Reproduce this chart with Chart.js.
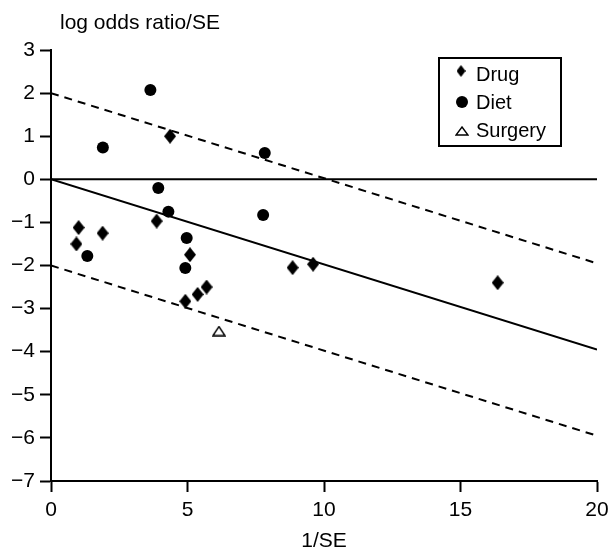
<!DOCTYPE html>
<html>
<head>
<meta charset="utf-8">
<script src="https://cdn.jsdelivr.net/npm/chart.js@4.4.0/dist/chart.umd.min.js"></script>
<style>
html, body { margin: 0; padding: 0; background: #fff; }
#wrap { position: relative; width: 611px; height: 552px; }
</style>
</head>
<body>
<div id="wrap"><canvas id="galbraith"></canvas></div>
<script>
// values (x = 1/SE, y = log odds ratio/SE)
const drugX = [1.01, 0.93, 1.89, 3.87, 4.36, 5.09, 8.85, 9.6, 4.92, 5.37, 5.7, 16.36];
const drugY = [-1.12, -1.5, -1.25, -0.97, 1.0, -1.75, -2.05, -1.97, -2.83, -2.67, -2.5, -2.4];
const dietX = [3.64, 1.9, 7.83, 3.93, 4.3, 7.77, 1.33, 4.97, 4.92];
const dietY = [2.07, 0.74, 0.61, -0.2, -0.75, -0.83, -1.78, -1.36, -2.06];
const surgeryX = [6.15];
const surgeryY = [-3.52];

// regression line and +/-2 band
const lineX = [0, 20];
const fitY = [0, -3.95];
const upperY = [2, -1.95];
const lowerY = [-2, -5.95];
const zeroY = [0, 0];

const legendLabels = ['Drug', 'Diet', 'Surgery'];
const xTitle = '1/SE';
const yTitle = 'log odds ratio/SE';

const FONT = '"Liberation Sans", Arial, Helvetica, sans-serif';

function zip(xs, ys) {
    return xs.map((x, i) => ({ x: x, y: ys[i] }));
}

function makeMarker(w, h, draw) {
    const c = document.createElement('canvas');
    c.width = w;
    c.height = h;
    draw(c.getContext('2d'), w, h);
    return c;
}

function diamondShape(g, w, h) {
    g.fillStyle = '#000';
    g.beginPath();
    g.moveTo(w / 2, 0);
    g.lineTo(w, h / 2);
    g.lineTo(w / 2, h);
    g.lineTo(0, h / 2);
    g.closePath();
    g.fill();
}

function triangleShape(g, w, h) {
    g.strokeStyle = '#000';
    g.lineWidth = 1.4;
    g.beginPath();
    g.moveTo(w / 2, 1);
    g.lineTo(w - 1, h - 1);
    g.lineTo(1, h - 1);
    g.closePath();
    g.stroke();
}

const diamond = makeMarker(12, 15, diamondShape);
const triangle = makeMarker(14, 11, triangleShape);
const legendDiamond = makeMarker(9, 12, diamondShape);
const legendTriangle = makeMarker(14, 10, triangleShape);

// y title on top and the boxed legend inside the plot
const overlayPlugin = {
    id: 'overlay',
    afterDraw(chart) {
        const ctx = chart.ctx;
        ctx.save();
        ctx.fillStyle = '#000';
        ctx.font = '21px ' + FONT;
        ctx.textAlign = 'left';
        ctx.textBaseline = 'alphabetic';
        ctx.fillText(yTitle, 60, 29);

        ctx.strokeStyle = '#000';
        ctx.lineWidth = 2;
        ctx.strokeRect(439, 58, 122, 88);

        const rows = [81, 109, 137];
        ctx.drawImage(legendDiamond, 461 - 4.5, 71 - 6);
        ctx.beginPath();
        ctx.arc(462, 102, 6, 0, Math.PI * 2);
        ctx.fill();
        ctx.drawImage(legendTriangle, 462 - 7, 131 - 5);
        ctx.font = '20px ' + FONT;
        legendLabels.forEach((t, i) => ctx.fillText(t, 476, rows[i]));
        ctx.restore();
    }
};

const lineStyle = {
    showLine: true,
    pointRadius: 0,
    borderColor: '#000',
    borderWidth: 2,
    fill: false
};

new Chart(document.getElementById('galbraith'), {
    type: 'scatter',
    data: {
        datasets: [
            { label: legendLabels[0], data: zip(drugX, drugY), pointStyle: diamond, pointRadius: 7 },
            { label: legendLabels[1], data: zip(dietX, dietY), pointStyle: 'circle', pointRadius: 6,
              backgroundColor: '#000', borderColor: '#000', borderWidth: 0 },
            { label: legendLabels[2], data: zip(surgeryX, surgeryY), pointStyle: triangle, pointRadius: 7 },
            Object.assign({ label: 'fit', data: zip(lineX, fitY) }, lineStyle),
            Object.assign({ label: 'upper', data: zip(lineX, upperY), borderDash: [8, 6] }, lineStyle),
            Object.assign({ label: 'lower', data: zip(lineX, lowerY), borderDash: [8, 6] }, lineStyle),
            Object.assign({ label: 'zero', data: zip(lineX, zeroY) }, lineStyle)
        ]
    },
    options: {
        responsive: true,
        maintainAspectRatio: false,
        animation: false,
        layout: { padding: { top: 50, right: 14, bottom: 0, left: 0 } },
        plugins: {
            legend: { display: false },
            tooltip: { enabled: false },
            title: { display: false }
        },
        scales: {
            x: {
                type: 'linear',
                min: 0,
                max: 20,
                afterFit(scale) {
                    scale.height = 71;
                    scale.paddingLeft = 0;
                    scale.paddingRight = 0;
                },
                ticks: { stepSize: 5, color: '#000', padding: 6, maxRotation: 0,
                         font: { family: FONT, size: 21 } },
                grid: { drawOnChartArea: false, drawTicks: true, tickLength: 11,
                        tickWidth: 2, tickColor: '#000' },
                border: { display: true, color: '#000', width: 2 },
                title: { display: true, text: xTitle, color: '#000',
                         font: { family: FONT, size: 21, lineHeight: 1 },
                         padding: { top: 0, bottom: 0 } }
            },
            y: {
                type: 'linear',
                min: -7,
                max: 3,
                afterFit(scale) {
                    scale.width = 51;
                    scale.paddingTop = 0;
                    scale.paddingBottom = 0;
                },
                ticks: { stepSize: 1, color: '#000', padding: 5,
                         font: { family: FONT, size: 21 },
                         callback: v => String(v).replace('-', '\u2212') },
                grid: { drawOnChartArea: false, drawTicks: true, tickLength: 11,
                        tickWidth: 2, tickColor: '#000' },
                border: { display: true, color: '#000', width: 2 }
            }
        }
    },
    plugins: [overlayPlugin]
});
</script>
</body>
</html>
